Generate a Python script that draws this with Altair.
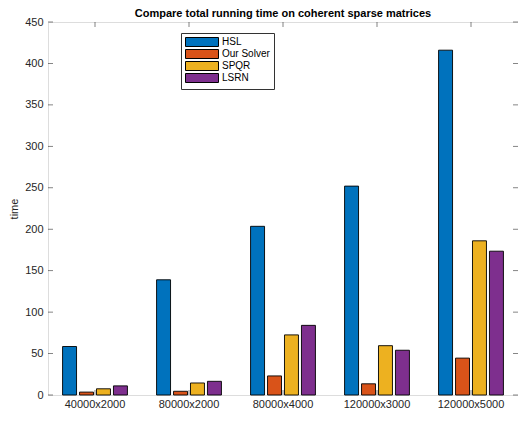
import altair as alt
import pandas as pd

categories = ["40000x2000", "80000x2000", "80000x4000", "120000x3000", "120000x5000"]
series = ["HSL", "Our Solver", "SPQR", "LSRN"]
hsl = [58.5, 139, 203.5, 252, 416]
our_solver = [3.5, 4.5, 23, 13.5, 44.5]
spqr = [7.5, 14.5, 72.5, 59.5, 186]
lsrn = [11, 16.5, 84, 54, 173.5]
colors = ["#0072BD", "#D95319", "#EDB120", "#7E2F8E"]
y_ticks = [0, 50, 100, 150, 200, 250, 300, 350, 400, 450]

rows = []
for name, vals in zip(series, [hsl, our_solver, spqr, lsrn]):
    for c, v in zip(categories, vals):
        rows.append({"matrix": c, "solver": name, "time": v})
df = pd.DataFrame(rows)

W, H = 470, 373
axis_color = "#262626"
font = "Liberation Sans"

x_scale = alt.Scale(domain=categories, paddingInner=0.31, paddingOuter=0.155)
y_scale = alt.Scale(domain=[0, 450], nice=False)

bars = alt.Chart(df).mark_bar(stroke="black", strokeWidth=0.9).encode(
    x=alt.X("matrix:N", scale=x_scale, sort=categories,
            axis=alt.Axis(title=None, labelAngle=0, ticks=False, domain=False,
                          bandPosition=0.5, labelAlign="center",
                          labelBaseline="top",
                          labelFontSize=11, labelColor=axis_color, labelFont=font,
                          labelPadding=3)),
    xOffset=alt.XOffset("solver:N", sort=series,
                        scale=alt.Scale(domain=series, paddingInner=0.176, paddingOuter=0)),
    y=alt.Y("time:Q", scale=y_scale,
            axis=alt.Axis(title="time", values=y_ticks, ticks=False, domain=False,
                          grid=False, labelFontSize=11, labelColor=axis_color,
                          labelFont=font, labelPadding=5, titleFont=font,
                          titleFontSize=11, titleFontWeight="normal",
                          titleColor=axis_color, titleX=-34, titleY=H / 2,
                          titleAlign="center", titleBaseline="middle")),
    color=alt.Color("solver:N", sort=series,
                    scale=alt.Scale(domain=series, range=colors),
                    legend=alt.Legend(title=None, orient="none", legendX=133, legendY=11,
                                      fillColor="white", strokeColor="#333333",
                                      padding=4, symbolType="M-1,-1H6.33V1H-1Z",
                                      symbolSize=81, symbolStrokeColor="black",
                                      symbolStrokeWidth=1, symbolOpacity=1,
                                      labelOffset=27, labelFontSize=10,
                                      labelFont=font, labelColor="black",
                                      rowPadding=-2, offset=0)),
)

tick_df = pd.DataFrame({"t": y_ticks})
left_ticks = alt.Chart(tick_df).mark_tick(orient="horizontal", color=axis_color,
                                          size=5, thickness=0.8).encode(
    y=alt.Y("t:Q", scale=y_scale), x=alt.value(2.5))
right_ticks = alt.Chart(tick_df).mark_tick(orient="horizontal", color=axis_color,
                                           size=5, thickness=0.8).encode(
    y=alt.Y("t:Q", scale=y_scale), x=alt.value(W - 2.5))

cat_df = pd.DataFrame({"matrix": categories})
top_ticks = alt.Chart(cat_df).mark_tick(orient="vertical", color=axis_color,
                                        size=5, thickness=0.8).encode(
    x=alt.X("matrix:N", scale=x_scale, sort=categories, bandPosition=0.5),
    y=alt.value(2.5))
bottom_ticks = alt.Chart(cat_df).mark_tick(orient="vertical", color=axis_color,
                                           size=5, thickness=0.8).encode(
    x=alt.X("matrix:N", scale=x_scale, sort=categories, bandPosition=0.5),
    y=alt.value(H - 2.5))

chart = alt.layer(bottom_ticks, bars, left_ticks, right_ticks, top_ticks).properties(
    width=W, height=H,
    title=alt.Title("Compare total running time on coherent sparse matrices",
                    fontSize=11, font=font, fontWeight="bold", color="black",
                    offset=3, dy=6),
    autosize=alt.AutoSizeParams(type="none"),
    padding={"left": 40, "top": 14, "right": 0, "bottom": 14},
).configure_view(stroke=axis_color, strokeWidth=1.2).configure(background="white")

chart.save("out.html", embed_options={"renderer": "svg", "actions": False})
